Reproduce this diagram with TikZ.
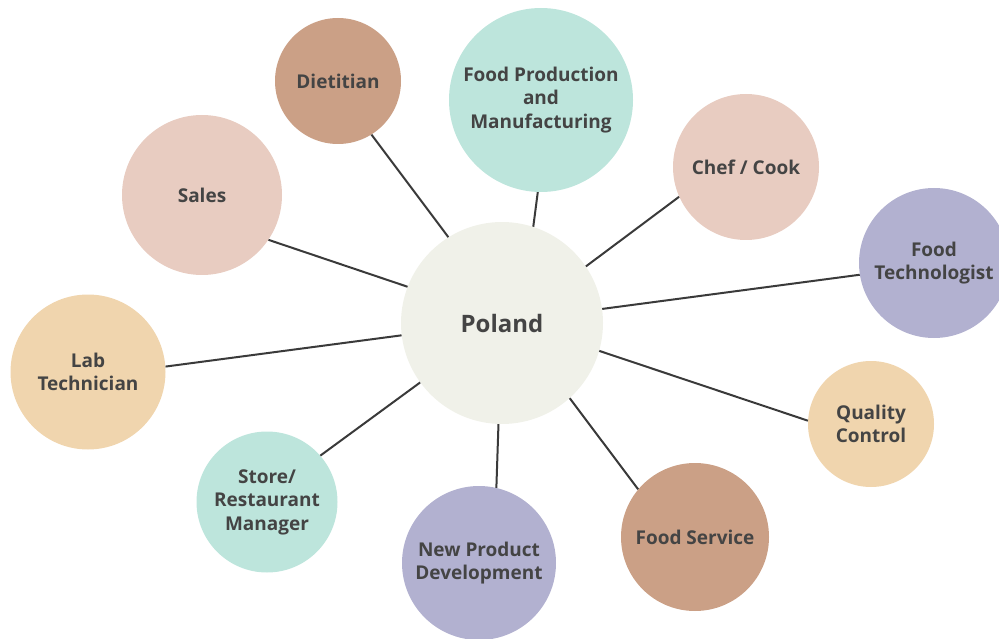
\documentclass[tikz,border=0pt]{standalone}
\usepackage{fontspec}
\setmainfont{Open Sans}
\usepackage{tikz}
\definecolor{polandcream}{RGB}{240,241,233}
\definecolor{jobbrown}{RGB}{203,160,134}
\definecolor{jobmint}{RGB}{189,229,220}
\definecolor{jobpink}{RGB}{232,204,193}
\definecolor{joblavender}{RGB}{178,177,208}
\definecolor{jobpeach}{RGB}{240,213,174}
\definecolor{labelgrey}{RGB}{68,68,68}
\definecolor{linkgrey}{RGB}{58,58,58}

\begin{document}
\begin{tikzpicture}[
		x=1pt, y=-1pt,
		bubble/.style={
			  circle,
			  inner sep=0pt,
			  align=center,
			  text=labelgrey,
			  font=\fontsize{19}{23.5}\selectfont\bfseries
			  },
		link/.style={
			  draw=linkgrey,
			  line width=2pt
			  }
	]
		\clip (0,0) rectangle (999,639);
		% centre
		\node[bubble, fill=polandcream, minimum size=202pt,
			  font=\fontsize{24}{30}\selectfont\bfseries] (poland) at (502,323) {Poland};
		% jobs around it
		\node[bubble, fill=jobbrown, minimum size=126pt] (dietitian) at (338,81) {Dietitian};
		\node[bubble, fill=jobmint, minimum size=184pt] (production) at (541,100) {Food Production\\and\\Manufacturing};
		\node[bubble, fill=jobpink, minimum size=146pt] (chef) at (746,167) {Chef / Cook};
		\node[bubble, fill=joblavender, minimum size=150pt] (technologist) at (934,263) {Food\\Technologist};
		\node[bubble, fill=jobpink, minimum size=160pt] (sales) at (202,195) {Sales};
		\node[bubble, fill=jobpeach, minimum size=155pt] (lab) at (88,372) {Lab\\Technician};
		\node[bubble, fill=jobmint, minimum size=141pt] (store) at (267,502) {Store/\\Restaurant\\Manager};
		\node[bubble, fill=joblavender, minimum size=154pt] (newproduct) at (479,563) {New Product\\Development};
		\node[bubble, fill=jobbrown, minimum size=148pt] (service) at (695,537) {Food Service};
		\node[bubble, fill=jobpeach, minimum size=126pt] (quality) at (871,424) {Quality\\Control};
		% links
		\draw[link] (poland.122) -- (dietitian.-58);
		\draw[link] (poland.72) -- (production.-92);
		\draw[link] (poland.34) -- (chef.-156);
		\draw[link] (poland.8) -- (technologist.189);
		\draw[link] (poland.159) -- (sales.-34);
		\draw[link] (poland.187) -- (lab.4);
		\draw[link] (poland.216) -- (store.41);
		\draw[link] (poland.-92) -- (newproduct.77);
		\draw[link] (poland.-48) -- (service.140);
		\draw[link] (poland.-16) -- (quality.177);
	\end{tikzpicture}
\end{document}
